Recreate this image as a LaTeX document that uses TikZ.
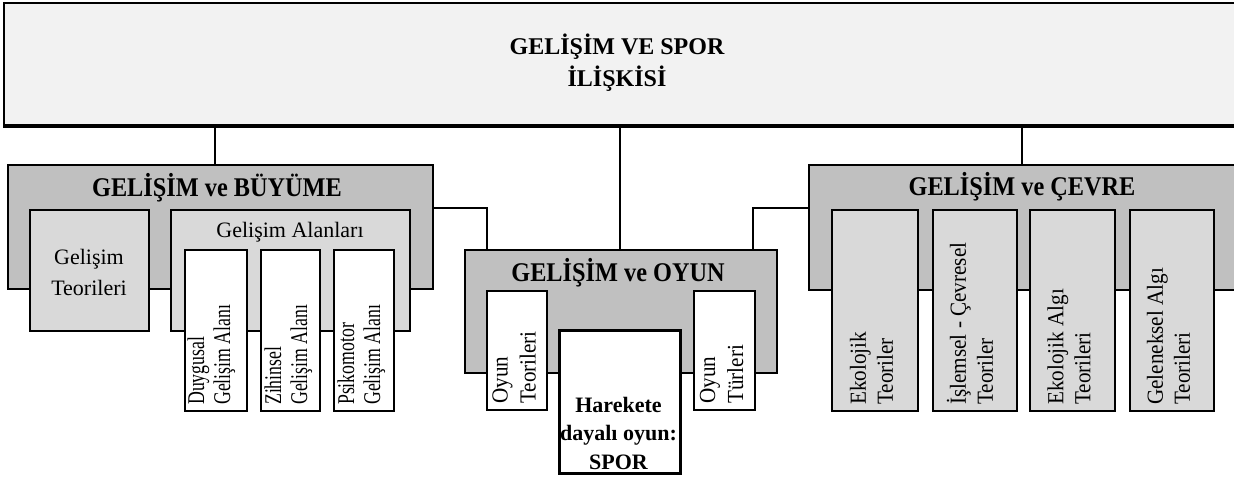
\documentclass[tikz,border=0pt]{standalone}
\usepackage{fontspec}
\setmainfont{Liberation Serif}
\definecolor{topfill}{HTML}{F2F2F2}
\definecolor{midfill}{HTML}{C0C0C0}
\definecolor{lightfill}{HTML}{D9D9D9}
\newcommand{\vlines}[4]{\scalebox{#1}[1]{\fontsize{#2}{#3}\selectfont\begin{tabular}{@{}l@{}}#4\end{tabular}}}
\begin{document}
\begin{tikzpicture}[x=1pt,y=-1pt,
  frame/.style={draw=black, line width=1.6pt, inner sep=0pt, anchor=north west},
  title/.style={font=\fontsize{24}{32}\selectfont\bfseries, align=center, inner sep=0pt},
  subtitle/.style={font=\fontsize{27}{32}\selectfont\bfseries, inner sep=0pt},
  plain/.style={font=\fontsize{22}{31}\selectfont, align=center, inner sep=0pt},
  vtext/.style={rotate=90, anchor=west, inner sep=0pt},
  link/.style={draw=black, line width=1.3pt}]
\useasboundingbox (0,0) rectangle (1234,477);
\clip (0,0) rectangle (1234,477);

% top box
\node[frame, fill=topfill, minimum width=1237pt, minimum height=122pt] (top) at (3,2) {};
\draw[line width=4pt] (top.south west) -- (top.south east);
\node[title] (toptxt) at (617,63) {GELİŞİM VE SPOR\\İLİŞKİSİ};

% GELISIM ve BUYUME
\node[frame, fill=midfill, minimum width=425pt, minimum height=124pt] (buyume) at (7,164) {};
\node[subtitle] (buyumetxt) at (217,188) {\scalebox{0.9}[1]{GELİŞİM ve BÜYÜME}};
\node[frame, fill=lightfill, minimum width=119pt, minimum height=121pt] (teori) at (29,209) {};
\node[plain] (teoritxt) at (89,272) {Gelişim\\Teorileri};
\node[frame, fill=lightfill, minimum width=239pt, minimum height=121pt] (alan) at (170,209) {};
\node[plain] (alantxt) at (290,232) {Gelişim Alanları};
\node[frame, fill=white, minimum width=62pt, minimum height=161pt] (duy) at (184,249) {};
\node[frame, fill=white, minimum width=59pt, minimum height=161pt] (zih) at (260,249) {};
\node[frame, fill=white, minimum width=60pt, minimum height=161pt] (psi) at (333,249) {};
\node[vtext] (duytxt) at (212,405) {\vlines{0.74}{24}{26}{Duygusal\\Gelişim Alanı}};
\node[vtext] (zihtxt) at (289,405) {\vlines{0.74}{24}{26}{Zihinsel\\Gelişim Alanı}};
\node[vtext] (psitxt) at (362,405) {\vlines{0.74}{24}{26}{Psikomotor\\Gelişim Alanı}};

% GELISIM ve OYUN
\node[frame, fill=midfill, minimum width=312pt, minimum height=123pt] (oyun) at (464,249) {};
\node[subtitle] (oyuntxt) at (618,273) {\scalebox{0.9}[1]{GELİŞİM ve OYUN}};
\node[frame, fill=white, minimum width=60pt, minimum height=119pt] (oteori) at (486,290) {};
\node[frame, fill=white, minimum width=61pt, minimum height=119pt] (oturu) at (693,290) {};
\node[frame, fill=white, line width=3pt, minimum width=121pt, minimum height=143pt] (spor) at (558,329) {};
\node[vtext] (oteoritxt) at (516,404) {\vlines{0.92}{23}{28}{Oyun\\Teorileri}};
\node[vtext] (oturutxt) at (723.5,404) {\vlines{0.92}{23}{28}{Oyun\\Türleri}};
\node[font=\fontsize{22}{28.5}\selectfont\bfseries, align=center, inner sep=0pt] (sportxt) at (618.5,433) {Harekete\\dayalı oyun:\\SPOR};

% GELISIM ve CEVRE
\node[frame, fill=midfill, minimum width=432pt, minimum height=125pt] (cevre) at (808,164) {};
\node[subtitle] (cevretxt) at (1022,187) {\scalebox{0.9}[1]{GELİŞİM ve ÇEVRE}};
\node[frame, fill=lightfill, minimum width=86pt, minimum height=201pt] (eko) at (831,209) {};
\node[frame, fill=lightfill, minimum width=84pt, minimum height=201pt] (isl) at (932,209) {};
\node[frame, fill=lightfill, minimum width=85pt, minimum height=201pt] (ekoa) at (1029,209) {};
\node[frame, fill=lightfill, minimum width=84pt, minimum height=201pt] (gel) at (1129,209) {};
\node[vtext] (ekotxt) at (874,405) {\vlines{0.92}{23}{27}{Ekolojik\\Teoriler}};
\node[vtext] (isltxt) at (974,405) {\vlines{0.92}{23}{27}{İşlemsel - Çevresel\\Teoriler}};
\node[vtext] (ekoatxt) at (1071.5,405) {\vlines{0.92}{23}{27}{Ekolojik Algı\\Teorileri}};
\node[vtext] (geltxt) at (1171,405) {\vlines{0.92}{23}{27}{Geleneksel Algı\\Teorileri}};

% connectors
\coordinate (cl) at (215,0);
\coordinate (cm) at (620,0);
\coordinate (cr) at (1022,0);
\coordinate (jl) at (487,208);
\coordinate (jr) at (753,208);
\draw[link] (top.south -| cl) -- (buyume.north -| cl);
\draw[link] (top.south -| cm) -- (oyun.north -| cm);
\draw[link] (top.south -| cr) -- (cevre.north -| cr);
\draw[link] (buyume.east |- jl) -| (oyun.north -| jl);
\draw[link] (cevre.west |- jr) -| (oyun.north -| jr);
\end{tikzpicture}
\end{document}
